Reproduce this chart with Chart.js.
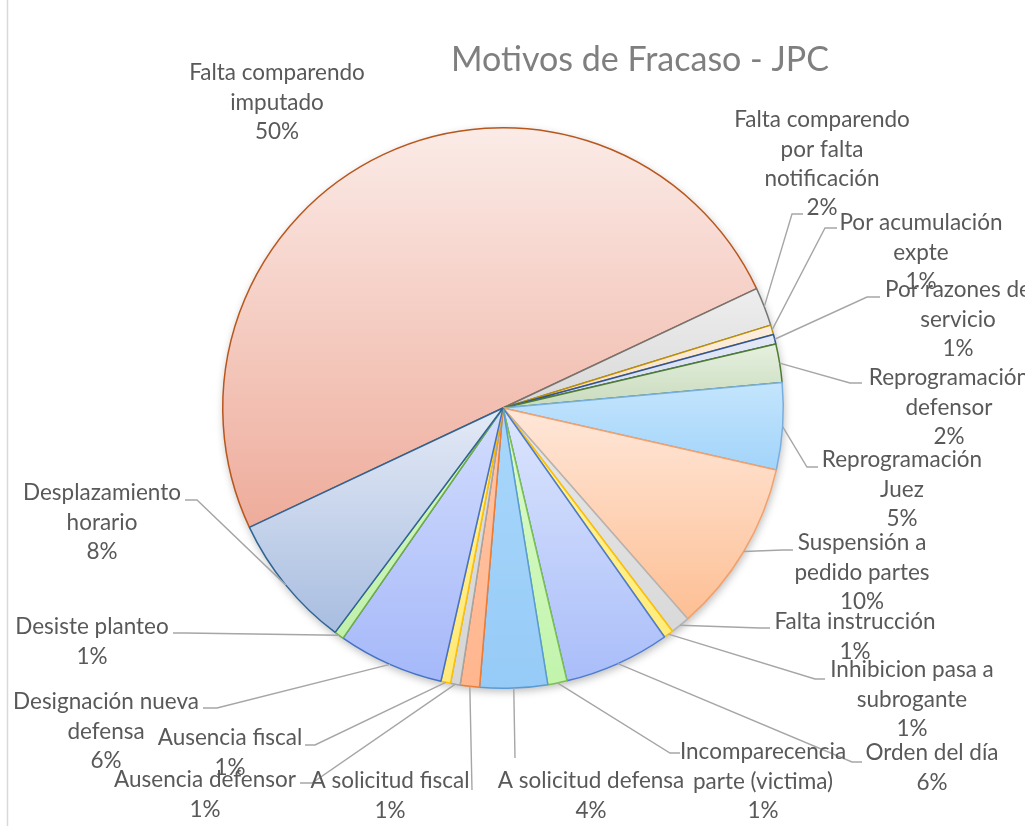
<!DOCTYPE html>
<html>
<head>
<meta charset="utf-8">
<title>Motivos de Fracaso - JPC</title>
<script src="https://cdn.jsdelivr.net/npm/chart.js"></script>
<style>
body { margin: 0; background: #ffffff; }
#wrap { width: 1025px; height: 826px; position: relative; }
</style>
</head>
<body>
<div id="wrap"><canvas id="mycanvas" width="1025" height="826"></canvas></div>
<script>
// motivos (each entry split into the lines shown in its label)
var motivos = [
    ["Falta comparendo", "imputado"],
    ["Falta comparendo", "por falta", "notificación"],
    ["Por acumulación", "expte"],
    ["Por razones de", "servicio"],
    ["Reprogramación", "defensor"],
    ["Reprogramación", "Juez"],
    ["Suspensión a", "pedido partes"],
    ["Falta instrucción"],
    ["Inhibicion pasa a", "subrogante"],
    ["Orden del día"],
    ["Incomparecencia", "parte (victima)"],
    ["A solicitud defensa"],
    ["A solicitud fiscal"],
    ["Ausencia defensor"],
    ["Ausencia fiscal"],
    ["Designación nueva", "defensa"],
    ["Desiste planteo"],
    ["Desplazamiento", "horario"]
];

// cantidad de audiencias fracasadas por motivo
var casos = [90, 4, 1, 1, 4, 9, 18, 2, 1, 11, 2, 7, 2, 1, 1, 11, 1, 14];

var colorArriba = ["#fbebe7", "#eeeeee", "#fcefe0", "#e4e9f6", "#e6f0df", "#c4e5fd", "#ffe7d9", "#e8e8e8", "#fff6a0",
    "#dde6fd", "#dcfbcc", "#a9d7fb", "#ffc6a8", "#e0e0e0", "#fff29a", "#d3ddfd", "#d8f8c8", "#e4eaf6"];
var colorAbajo = ["#eeac9b", "#d8d8d8", "#f6dcc0", "#d2daef", "#c8dbbd", "#a2d4fa", "#fdbf94", "#d9d9d9", "#ffec7c",
    "#a9bdf9", "#c2f4ac", "#96cbf7", "#ffb68e", "#d6d6d6", "#ffe97a", "#a5b8f9", "#c0f0ab", "#a8bde0"];
var colorBorde = ["#b9561c", "#747474", "#bf9000", "#2f5597", "#4f7c32", "#78aee0", "#f3a06a", "#b4b4b4", "#ffc000",
    "#4d7bd0", "#7cc050", "#5b9bd5", "#ed7d31", "#a5a5a5", "#ffc000", "#4472c4", "#70ad47", "#2e6395"];

// where each label sits: centre x, centre of first line, and where its leader meets it
var posEtiqueta = [
    { x: 277, y: 73 },
    { x: 822, y: 120, a: [803, 214], c: [792, 214] },
    { x: 921, y: 223, a: [837, 228], c: [825, 228] },
    { x: 958, y: 290, a: [880, 297], c: [867, 297] },
    { x: 949, y: 378, a: [862, 383], c: [850, 383] },
    { x: 902, y: 460, a: [818, 467], c: [807, 467] },
    { x: 862, y: 543, a: [793, 550], c: [783, 550] },
    { x: 855, y: 622, a: [770, 628], c: [760, 628] },
    { x: 912, y: 670, a: [825, 679], c: [815, 679] },
    { x: 932, y: 753, a: [862, 762], c: [852, 762] },
    { x: 763, y: 752, a: [680, 753], c: [670, 753] },
    { x: 591, y: 781, a: [515, 758], c: [515, 758] },
    { x: 390, y: 781, a: [472, 790], c: [472, 790] },
    { x: 205, y: 780, a: [300, 783], c: [312, 783] },
    { x: 230, y: 738, a: [305, 745], c: [315, 745] },
    { x: 106, y: 702, a: [203, 708], c: [217, 708] },
    { x: 92, y: 627, a: [173, 633], c: [185, 633] },
    { x: 102, y: 493, a: [185, 500], c: [197, 500] }
];

var total = casos.reduce(function(s, v) { return s + v; }, 0);

var etiquetas = {
    id: 'etiquetas',
    beforeDatasetsDraw: function(chart) {
        var ctx = chart.ctx;
        var arcs = chart.getDatasetMeta(0).data;
        var a0 = arcs[0];

        // soft shadow under the pie
        ctx.save();
        ctx.beginPath();
        ctx.arc(a0.x, a0.y, a0.outerRadius, 0, Math.PI * 2);
        ctx.shadowColor = 'rgba(0,0,0,0.28)';
        ctx.shadowBlur = 9;
        ctx.shadowOffsetX = 1;
        ctx.shadowOffsetY = 3;
        ctx.fillStyle = '#ffffff';
        ctx.fill();
        ctx.restore();

        // vertical gradient for each slice, light on top
        arcs.forEach(function(arc, i) {
            var r = arc.outerRadius;
            var ys = [arc.y, arc.y + r * Math.sin(arc.startAngle), arc.y + r * Math.sin(arc.endAngle)];
            [-0.5, 0.5, 1.5, 2.5, 3.5].forEach(function(k) {
                var t = k * Math.PI;
                if (t > arc.startAngle && t < arc.endAngle) ys.push(arc.y + r * Math.sin(t));
            });
            var top = Math.min.apply(null, ys), bot = Math.max.apply(null, ys);
            var g = ctx.createLinearGradient(0, top, 0, bot + 0.01);
            g.addColorStop(0, colorArriba[i]);
            g.addColorStop(1, colorAbajo[i]);
            arc.options.backgroundColor = g;
        });
    },
    afterDraw: function(chart) {
        var ctx = chart.ctx;
        var arcs = chart.getDatasetMeta(0).data;

        ctx.save();
        // chart frame
        ctx.strokeStyle = '#d9d9d9';
        ctx.lineWidth = 1.5;
        ctx.beginPath();
        ctx.moveTo(7.5, 0);
        ctx.lineTo(7.5, 826);
        ctx.stroke();

        // title
        ctx.fillStyle = '#7f7f7f';
        ctx.font = '34px Lato';
        ctx.textAlign = 'center';
        ctx.textBaseline = 'middle';
        ctx.fillText('Motivos de Fracaso - JPC', 640, 60);

        // leader lines
        ctx.strokeStyle = '#a6a6a6';
        ctx.lineWidth = 1.4;
        arcs.forEach(function(arc, i) {
            var p = posEtiqueta[i];
            if (!p.a) return;
            var mid = (arc.startAngle + arc.endAngle) / 2;
            var sx = arc.x + arc.outerRadius * Math.cos(mid);
            var sy = arc.y + arc.outerRadius * Math.sin(mid);
            ctx.beginPath();
            ctx.moveTo(sx, sy);
            ctx.lineTo(p.c[0], p.c[1]);
            ctx.lineTo(p.a[0], p.a[1]);
            ctx.stroke();
        });

        // labels: name lines + percentage
        ctx.fillStyle = '#595959';
        ctx.font = '22.5px Lato';
        motivos.forEach(function(lineas, i) {
            var p = posEtiqueta[i];
            var texto = lineas.concat([Math.round(casos[i] / total * 100) + '%']);
            texto.forEach(function(t, k) {
                ctx.fillText(t, p.x, p.y + k * 29.3);
            });
        });
        ctx.restore();
    }
};

var ctx = document.getElementById('mycanvas');

var grafico = new Chart(ctx, {
    type: 'pie',
    data: {
        labels: motivos,
        datasets: [{
            data: casos,
            backgroundColor: colorAbajo,
            borderColor: colorBorde,
            borderWidth: 1.5
        }]
    },
    options: {
        responsive: false,
        animation: false,
        rotation: 244.8,
        layout: { padding: { left: 222, top: 127, right: 241, bottom: 137 } },
        plugins: {
            legend: { display: false },
            tooltip: { enabled: false }
        }
    },
    plugins: [etiquetas]
});
</script>
</body>
</html>
